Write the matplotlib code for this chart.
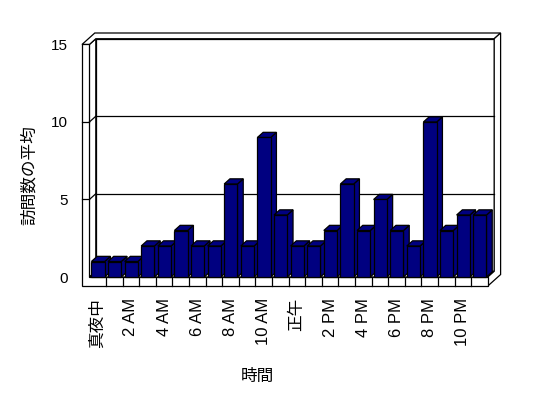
import matplotlib
matplotlib.use("Agg")
import matplotlib.pyplot as plt

plt.rcParams['font.family'] = ['Liberation Sans', 'Noto Sans CJK JP']

# average visits per hour (0..23)
hours = list(range(24))
visits = [1, 1, 1, 2, 2, 3, 2, 2, 6, 2, 9, 4,
          2, 2, 3, 6, 3, 5, 3, 2, 10, 3, 4, 4]
tick_hours = [0, 2, 4, 6, 8, 10, 12, 14, 16, 18, 20, 22]
tick_labels = ['真夜中', '2 AM', '4 AM', '6 AM', '8 AM', '10 AM',
               '正午', '2 PM', '4 PM', '6 PM', '8 PM', '10 PM']
yticks = [0, 5, 10, 15]

# pseudo 3d box (data units)
DX, DY = 0.385, 0.37     # offset per depth layer
W = -0.446               # left wall outer x
F = -0.58                # floor bottom
TOP = 15
N = len(hours)
BD = 0.9                 # bar depth
BW = 0.8
navy = '#000080'
lw = 0.9


def P(x, y, d):
    return (x + d * DX, y + d * DY)


def poly(ax, pts, fc='white', z=1):
    xs = [p[0] for p in pts]
    ys = [p[1] for p in pts]
    ax.fill(xs, ys, facecolor=fc, edgecolor='black', lw=lw, zorder=z,
            clip_on=False)


def line(ax, a, b, z=2):
    ax.plot([a[0], b[0]], [a[1], b[1]], color='black', lw=lw, zorder=z,
            clip_on=False)


fig = plt.figure(figsize=(5.48, 3.98), dpi=100)
ax = fig.add_axes([82 / 548, 1 - 286 / 398, 418.6 / 548, 253 / 398])
ax.set_xlim(W, N + 2 * DX)
ax.set_ylim(F, TOP + 2 * DY)
ax.patch.set_visible(False)
for s in ax.spines.values():
    s.set_visible(False)

# back wall inner face + grid
poly(ax, [P(0, 0, 1), P(N, 0, 1), P(N, TOP, 1), P(0, TOP, 1)])
# left wall inner face
poly(ax, [P(0, 0, 0), P(0, 0, 1), P(0, TOP, 1), P(0, TOP, 0)])
for v in [5, 10]:
    line(ax, P(0, v, 1), P(N, v, 1))
    line(ax, P(0, v, 0), P(0, v, 1))
# floor top
poly(ax, [P(0, 0, 0), P(N, 0, 0), P(N, 0, 1), P(0, 0, 1)])
# top of walls
poly(ax, [P(W, TOP, 0), P(0, TOP, 0), P(0, TOP, 1), P(N, TOP, 1),
          P(N, TOP, 2), P(W, TOP, 2)])
# right side of floor + back wall
poly(ax, [P(N, F, 0), P(N, 0, 0), P(N, 0, 1), P(N, TOP, 1),
          P(N, TOP, 2), P(N, F, 2)])
# front face (left wall + floor)
poly(ax, [P(W, F, 0), P(N, F, 0), P(N, 0, 0), P(0, 0, 0),
          P(0, TOP, 0), P(W, TOP, 0)])
for i in range(1, N):
    line(ax, (i, F), (i, 0))
for v in [5, 10]:
    line(ax, (W, v), (0, v))

# bars
lefts = [h + 0.12 for h in hours]
bars = ax.bar(lefts, visits, width=BW, align='edge', color=navy,
              edgecolor='black', lw=lw)
for i, (x0, v) in enumerate(zip(lefts, visits)):
    x1 = x0 + BW
    poly(ax, [P(x1, 0, 0), P(x1, v, 0), P(x1, v, BD), P(x1, 0, BD)],
         fc=navy, z=10 + 2 * i)
    poly(ax, [P(x0, v, 0), P(x1, v, 0), P(x1, v, BD), P(x0, v, BD)],
         fc=navy, z=10 + 2 * i)
    bars[i].set_zorder(11 + 2 * i)

ax.set_yticks(yticks)
ax.set_yticklabels([str(t) for t in yticks], fontsize=11)
ax.set_xticks([h + 0.5 for h in tick_hours])
ax.set_xticklabels(tick_labels, rotation=90, fontsize=12)
ax.tick_params(axis='y', length=0, pad=10)
ax.tick_params(axis='x', length=0, pad=8.5)

ax.text(-0.127, 0.439, '訪問数の平均', transform=ax.transAxes, rotation=90,
        ha='center', va='center', fontsize=12)
ax.text(0.42, -0.356, '時間', transform=ax.transAxes,
        ha='center', va='center', fontsize=12)

fig.savefig('out.png', dpi=100)
